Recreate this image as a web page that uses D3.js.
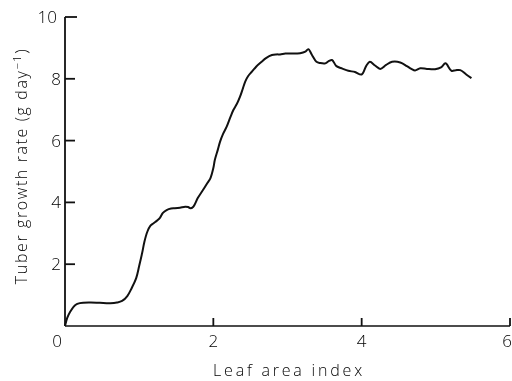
<!DOCTYPE html>
<html>
<head>
<meta charset="utf-8">
<script src="https://cdn.jsdelivr.net/npm/d3@7/dist/d3.min.js"></script>
<style>
  html, body { margin: 0; padding: 0; background: #fff; }
  svg { display: block; will-change: transform; }
  text { font-family: "Open Sans", "Liberation Sans", sans-serif; font-weight: 300; fill: #000; }
</style>
</head>
<body>
<svg id="chart" width="512" height="381"></svg>
<script>
// Leaf area index (x) and tuber growth rate in g/day (y)
const laiValues = [0, 0.03, 0.07, 0.14, 0.2, 0.34, 0.47, 0.61, 0.7, 0.77, 0.84, 0.9, 0.96, 1.0, 1.04, 1.07,
  1.11, 1.15, 1.19, 1.24, 1.28, 1.32, 1.37, 1.43, 1.48, 1.55, 1.62, 1.66, 1.69, 1.73, 1.79, 1.86,
  1.92, 1.96, 2.0, 2.02, 2.06, 2.09, 2.13, 2.18, 2.23, 2.27, 2.32, 2.36, 2.4, 2.43, 2.47, 2.52,
  2.58, 2.65, 2.71, 2.79, 2.85, 2.9, 2.97, 3.03, 3.17, 3.24, 3.28, 3.33, 3.39, 3.44, 3.51, 3.56,
  3.6, 3.66, 3.74, 3.82, 3.91, 4.0, 4.06, 4.11, 4.18, 4.25, 4.33, 4.41, 4.52, 4.61, 4.67, 4.72,
  4.79, 4.88, 4.99, 5.07, 5.13, 5.21, 5.27, 5.33, 5.41, 5.48];
const growthRates = [0, 0.26, 0.46, 0.68, 0.74, 0.76, 0.75, 0.74, 0.76, 0.81, 0.97, 1.23, 1.55, 1.94, 2.36, 2.72,
  3.05, 3.24, 3.32, 3.41, 3.5, 3.66, 3.75, 3.8, 3.81, 3.83, 3.86, 3.85, 3.81, 3.86, 4.14, 4.4,
  4.63, 4.78, 5.11, 5.37, 5.7, 5.96, 6.21, 6.45, 6.76, 6.99, 7.2, 7.42, 7.7, 7.91, 8.09, 8.23,
  8.4, 8.55, 8.67, 8.77, 8.79, 8.79, 8.82, 8.82, 8.83, 8.88, 8.96, 8.77, 8.55, 8.51, 8.5, 8.58,
  8.61, 8.41, 8.33, 8.26, 8.22, 8.14, 8.41, 8.55, 8.43, 8.32, 8.45, 8.55, 8.53, 8.41, 8.32, 8.27,
  8.34, 8.32, 8.31, 8.37, 8.5, 8.26, 8.28, 8.28, 8.14, 8.02];
const xTicks = [0, 2, 4, 6];
const yTicks = [2, 4, 6, 8, 10];
const xTitle = "Leaf area index";
const yTitle = "Tuber growth rate (g day";

const svg = d3.select("#chart");
const x = d3.scaleLinear().domain([0, 6]).range([65, 510]);
const y = d3.scaleLinear().domain([0, 10]).range([326, 17]);

// axis lines
svg.append("line").attr("x1", x(0)).attr("x2", x(6)).attr("y1", y(0)).attr("y2", y(0))
  .attr("stroke", "#111").attr("stroke-width", 1.6);
svg.append("line").attr("x1", x(0)).attr("x2", x(0)).attr("y1", y(0)).attr("y2", y(10))
  .attr("stroke", "#111").attr("stroke-width", 1.8);

// inward ticks on the x axis (skip the origin)
svg.selectAll(".xt").data(xTicks.filter(d => d > 0)).enter().append("line")
  .attr("x1", d => x(d)).attr("x2", d => x(d))
  .attr("y1", y(0)).attr("y2", y(0) - 8)
  .attr("stroke", "#111").attr("stroke-width", 1.8);
svg.selectAll(".xl").data(xTicks).enter().append("text")
  .attr("x", d => d === 0 ? x(d) - 8 : (d === 6 ? 512 : x(d)))
  .attr("y", y(0) + 21)
  .attr("text-anchor", d => d === 6 ? "end" : "middle").attr("font-size", 17)
  .text(d => d);

// inward ticks on the y axis
svg.selectAll(".yt").data(yTicks).enter().append("line")
  .attr("x1", x(0)).attr("x2", d => x(0) + (d === 10 ? 12 : 10))
  .attr("y1", d => y(d)).attr("y2", d => y(d))
  .attr("stroke", "#111").attr("stroke-width", 1.8);
svg.selectAll(".yl").data(yTicks).enter().append("text")
  .attr("x", d => d === 10 ? x(0) - 8 : x(0) - 4).attr("y", d => y(d) + 6)
  .attr("text-anchor", "end").attr("font-size", 17)
  .text(d => d);

// growth-rate curve
const pts = laiValues.map((v, i) => [v, growthRates[i]]);
svg.append("path").datum(pts)
  .attr("fill", "none").attr("stroke", "#111").attr("stroke-width", 2)
  .attr("stroke-linejoin", "round")
  .attr("d", d3.line().x(d => x(d[0])).y(d => y(d[1])).curve(d3.curveCatmullRom.alpha(0.5)));

// axis titles
svg.append("text").attr("x", 289).attr("y", 376).attr("text-anchor", "middle")
  .attr("font-size", 16).attr("letter-spacing", 2.8).text(xTitle);
const yt = svg.append("text").attr("transform", "translate(27,166) rotate(-90)")
  .attr("text-anchor", "middle").attr("font-size", 16).attr("letter-spacing", 1.6);
yt.append("tspan").text(yTitle);
yt.append("tspan").attr("dy", -6).attr("font-size", 11).text("−1");
yt.append("tspan").attr("dy", 6).text(")");
</script>
</body>
</html>
